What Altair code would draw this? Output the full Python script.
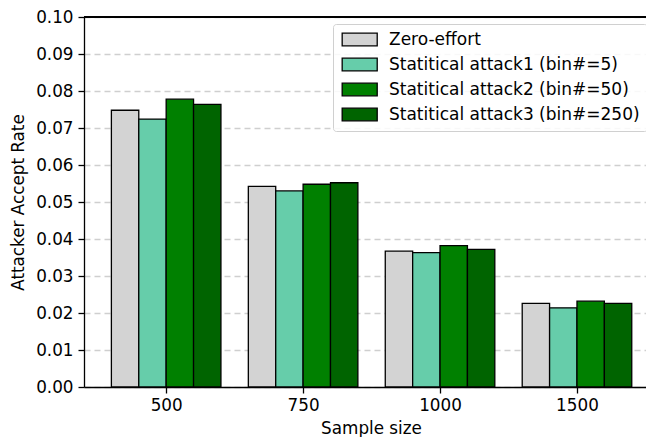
import altair as alt
import pandas as pd

sizes = ["500", "750", "1000", "1500"]
series = [
    "Zero-effort",
    "Statitical attack1 (bin#=5)",
    "Statitical attack2 (bin#=50)",
    "Statitical attack3 (bin#=250)",
]
zero_effort = [0.0748, 0.0542, 0.0367, 0.0226]
attack1 = [0.0724, 0.0530, 0.0363, 0.0214]
attack2 = [0.0778, 0.0548, 0.0382, 0.0232]
attack3 = [0.0764, 0.0552, 0.0372, 0.0226]
colors = ["#d3d3d3", "#66cdaa", "#008000", "#006400"]

values = [zero_effort, attack1, attack2, attack3]
bar_w = 0.2
rows = []
for gi, sz in enumerate(sizes):
    for si, s in enumerate(series):
        c = gi + (si - (len(series) - 1) / 2) * bar_w
        rows.append({"size": sz, "series": s, "x0": c - bar_w / 2,
                     "x1": c + bar_w / 2, "value": values[si][gi]})
df = pd.DataFrame(rows)

W, H = 562, 370
label_expr = "[" + ",".join("'%s'" % s for s in sizes) + "][datum.value]"
FS = 16.8

bars = alt.Chart(df).mark_bar(stroke="black", strokeWidth=1.3).encode(
    x=alt.X("x0:Q",
            scale=alt.Scale(domain=[-0.6, 3.504], nice=False, zero=False),
            axis=alt.Axis(values=list(range(len(sizes))), labelExpr=label_expr,
                          title="Sample size", grid=False, labelFontSize=FS,
                          titleFontSize=FS, titleFontWeight="normal",
                          titleX=287, titleAnchor="middle",
                          labelPadding=4, titlePadding=7, tickSize=6,
                          domainColor="black", tickColor="black",
                          domainWidth=1.3, tickWidth=1.3,
                          labelColor="black", titleColor="black")),
    x2="x1:Q",
    y=alt.Y("value:Q",
            scale=alt.Scale(domain=[0, 0.1], nice=False),
            axis=alt.Axis(values=[i / 100 for i in range(11)], format=".2f",
                          title="Attacker Accept Rate", grid=True,
                          gridDash=[6, 4], gridColor="#cfcfcf", gridWidth=1.3,
                          labelFontSize=FS, titleFontSize=FS,
                          titleFontWeight="normal", labelPadding=5,
                          titlePadding=8, tickSize=6, domainColor="black",
                          tickColor="black", domainWidth=1.3, tickWidth=1.3,
                          labelColor="black", titleColor="black")),
    y2=alt.datum(0),
    color=alt.Color("series:N",
                    scale=alt.Scale(domain=series, range=colors),
                    sort=series,
                    legend=alt.Legend(
                        title=None, orient="none", legendX=249, legendY=7,
                        symbolType="M-1,-1 L4.54,-1 L4.54,1 L-1,1 Z",
                        symbolSize=160, symbolStrokeColor="black",
                        symbolStrokeWidth=1.3, symbolOpacity=1,
                        labelFontSize=17, labelColor="black", labelOffset=32,
                        rowPadding=6, padding=7, strokeColor="#d0d0d0",
                        fillColor="rgba(255,255,255,0.85)", cornerRadius=3,
                        labelLimit=400)),
)

top_spine = alt.Chart(df).mark_rule(color="black", strokeWidth=1.3).encode(
    x=alt.value(0), x2=alt.value(W), y=alt.value(0)
)

chart = alt.layer(bars, top_spine).properties(
    width=W, height=H,
    autosize=alt.AutoSizeParams(type="none"),
    padding={"left": 76, "top": 9, "right": 0, "bottom": 50},
).configure(font="DejaVu Sans").configure_view(stroke=None)

chart.save("out.html", embed_options={"renderer": "svg", "actions": False})
